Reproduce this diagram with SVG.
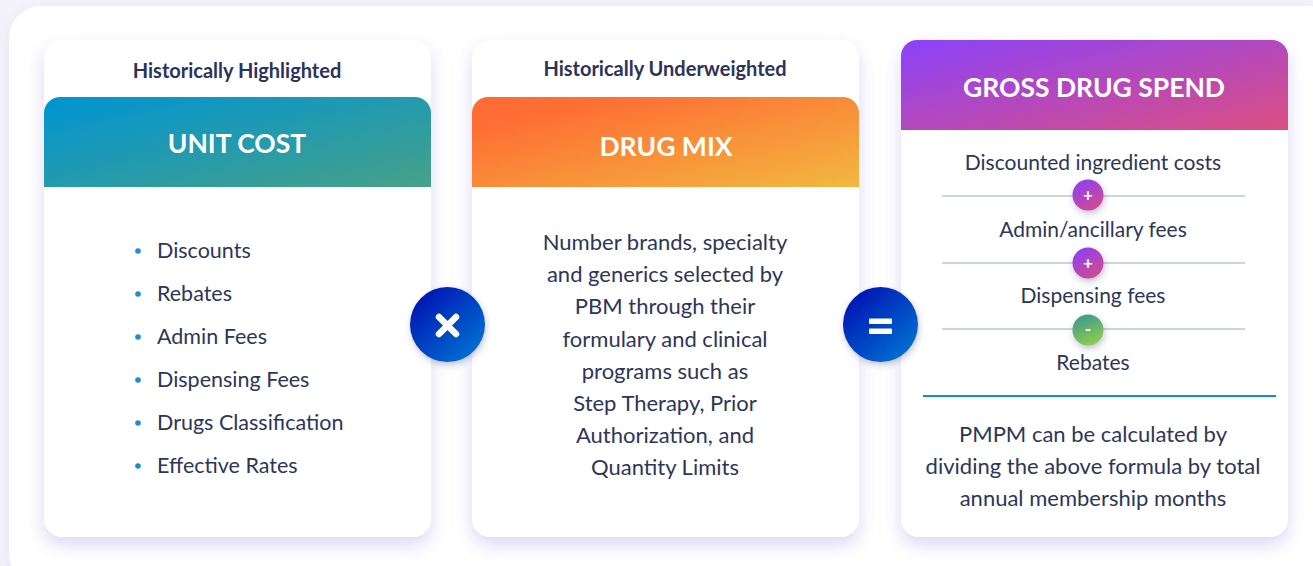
<svg xmlns="http://www.w3.org/2000/svg" width="1313" height="566" viewBox="0 0 1313 566">
  <defs>
    <linearGradient id="gUnit" x1="0" y1="0" x2="1" y2="1">
      <stop offset="0" stop-color="#0094d3"/>
      <stop offset="1" stop-color="#47a187"/>
    </linearGradient>
    <linearGradient id="gMix" x1="0" y1="0" x2="1" y2="1">
      <stop offset="0" stop-color="#ff6933"/>
      <stop offset="0.2" stop-color="#fe7034"/>
      <stop offset="1" stop-color="#f2b840"/>
    </linearGradient>
    <linearGradient id="gGross" x1="0" y1="0" x2="1" y2="1">
      <stop offset="0" stop-color="#8b42fb"/>
      <stop offset="1" stop-color="#dc4f80"/>
    </linearGradient>
    <linearGradient id="gOp" x1="0.15" y1="0.1" x2="0.9" y2="0.9">
      <stop offset="0" stop-color="#0316b3"/>
      <stop offset="1" stop-color="#0072d2"/>
    </linearGradient>
    <linearGradient id="gPlus" x1="0.2" y1="0" x2="0.8" y2="1">
      <stop offset="0" stop-color="#8f40f5"/>
      <stop offset="1" stop-color="#d44a8c"/>
    </linearGradient>
    <linearGradient id="gMinus" x1="0.3" y1="0" x2="0.7" y2="1">
      <stop offset="0" stop-color="#3d9a8c"/>
      <stop offset="1" stop-color="#93cd4d"/>
    </linearGradient>
    <filter id="panelShadow" x="-5%" y="-5%" width="110%" height="115%">
      <feDropShadow dx="0" dy="4" stdDeviation="8" flood-color="#dcdaf6" flood-opacity="0.7"/>
    </filter>
    <filter id="cardShadow" x="-10%" y="-10%" width="120%" height="125%">
      <feDropShadow dx="0" dy="8" stdDeviation="9" flood-color="#cfccf2" flood-opacity="0.75"/>
    </filter>
    <filter id="dotShadow" x="-50%" y="-50%" width="200%" height="200%">
      <feDropShadow dx="1" dy="3" stdDeviation="3" flood-color="#3a3a6a" flood-opacity="0.3"/>
    </filter>
    <style>
      .card { fill: #ffffff; filter: url(#cardShadow); }
      .sub { font-family: Lato, "Liberation Sans", sans-serif; font-weight: 700; font-size: 20px; fill: #2b335a; text-anchor: middle; }
      .title { font-family: Lato, "Liberation Sans", sans-serif; font-weight: 700; font-size: 26.5px; fill: #ffffff; text-anchor: middle; }
      .body { font-family: Lato, "Liberation Sans", sans-serif; font-size: 21px; fill: #2d3659; }
      .list { font-size: 21.5px; }
      .para { font-size: 22px; }
      .mid { text-anchor: middle; }
      .bullet { fill: #1b8fd2; }
      .sep { stroke: #b8c8d4; stroke-width: 1.6; }
      .opmark { stroke: #ffffff; stroke-width: 6.5; stroke-linecap: round; fill: none; }
      .sign { font-family: Lato, "Liberation Sans", sans-serif; font-weight: 700; font-size: 17px; fill: #ffffff; text-anchor: middle; }
    </style>
  </defs>

  <!-- page background and outer panel -->
  <rect x="0" y="0" width="1313" height="566" fill="#f4f3fb"/>
  <rect x="9" y="6" width="1330" height="580" rx="32" fill="#ffffff" filter="url(#panelShadow)"/>

  <!-- Unit cost -->
  <g id="unit-cost">
    <rect class="card" x="44" y="40" width="387" height="497" rx="18"/>
    <text class="sub" x="237" y="78">Historically Highlighted</text>
    <path d="M44,113 a16,16 0 0 1 16,-16 h355 a16,16 0 0 1 16,16 v74 h-387 z" fill="url(#gUnit)"/>
    <text class="title" x="237" y="153">UNIT COST</text>
    <g class="body list">
      <circle class="bullet" cx="138" cy="251" r="2.8"/>
      <text x="157" y="258">Discounts</text>
      <circle class="bullet" cx="138" cy="294" r="2.8"/>
      <text x="157" y="301">Rebates</text>
      <circle class="bullet" cx="138" cy="337" r="2.8"/>
      <text x="157" y="344">Admin Fees</text>
      <circle class="bullet" cx="138" cy="380" r="2.8"/>
      <text x="157" y="387">Dispensing Fees</text>
      <circle class="bullet" cx="138" cy="423" r="2.8"/>
      <text x="157" y="430">Drugs Classification</text>
      <circle class="bullet" cx="138" cy="466" r="2.8"/>
      <text x="157" y="473">Effective Rates</text>
    </g>
  </g>

  <!-- Drug mix -->
  <g id="drug-mix">
    <rect class="card" x="472" y="40" width="387" height="497" rx="18"/>
    <text class="sub" x="665" y="76">Historically Underweighted</text>
    <path d="M472,113 a16,16 0 0 1 16,-16 h355 a16,16 0 0 1 16,16 v74 h-387 z" fill="url(#gMix)"/>
    <text class="title" x="666" y="156">DRUG MIX</text>
    <g class="body para mid">
      <text x="665" y="250">Number brands, specialty</text>
      <text x="665" y="282">and generics selected by</text>
      <text x="665" y="314">PBM through their</text>
      <text x="665" y="347">formulary and clinical</text>
      <text x="665" y="379">programs such as</text>
      <text x="665" y="411">Step Therapy, Prior</text>
      <text x="665" y="443">Authorization, and</text>
      <text x="665" y="475">Quantity Limits</text>
    </g>
  </g>

  <!-- Gross drug spend -->
  <g id="gross-drug-spend">
    <rect class="card" x="901" y="40" width="387" height="497" rx="18"/>
    <path d="M901,56 a16,16 0 0 1 16,-16 h355 a16,16 0 0 1 16,16 v74 h-387 z" fill="url(#gGross)"/>
    <text class="title" x="1094" y="97">GROSS DRUG SPEND</text>
    <g class="body mid">
      <text x="1093" y="170">Discounted ingredient costs</text>
      <text x="1093" y="237">Admin/ancillary fees</text>
      <text x="1093" y="303">Dispensing fees</text>
      <text x="1093" y="370">Rebates</text>
    </g>
    <line class="sep" x1="942" y1="196" x2="1245" y2="196"/>
    <line class="sep" x1="942" y1="263" x2="1245" y2="263"/>
    <line class="sep" x1="942" y1="329" x2="1245" y2="329"/>
    <circle cx="1088" cy="195" r="15.5" fill="url(#gPlus)" filter="url(#dotShadow)"/>
    <text class="sign" x="1088" y="201">+</text>
    <circle cx="1088" cy="263" r="15.5" fill="url(#gPlus)" filter="url(#dotShadow)"/>
    <text class="sign" x="1088" y="269">+</text>
    <circle cx="1088" cy="330" r="15.5" fill="url(#gMinus)" filter="url(#dotShadow)"/>
    <text class="sign" x="1088" y="335">-</text>
    <line x1="923" y1="396" x2="1276" y2="396" stroke="#0b8ed6" stroke-width="2"/>
    <g class="body para mid">
      <text x="1093" y="442">PMPM can be calculated by</text>
      <text x="1093" y="474">dividing the above formula by total</text>
      <text x="1093" y="506">annual membership months</text>
    </g>
  </g>

  <!-- operators between the cards -->
  <g id="connectors">
    <g id="op-times">
      <circle cx="447.5" cy="324.5" r="37.5" fill="url(#gOp)" filter="url(#dotShadow)"/>
      <path class="opmark" d="M439,317 l17,17 M456,317 l-17,17"/>
    </g>
    <g id="op-equals">
      <circle cx="880.5" cy="324.5" r="37.5" fill="url(#gOp)" filter="url(#dotShadow)"/>
      <rect x="869" y="318.5" width="23" height="5.5" rx="1" fill="#ffffff"/>
      <rect x="869" y="328.5" width="23" height="5.5" rx="1" fill="#ffffff"/>
    </g>
  </g>
</svg>
